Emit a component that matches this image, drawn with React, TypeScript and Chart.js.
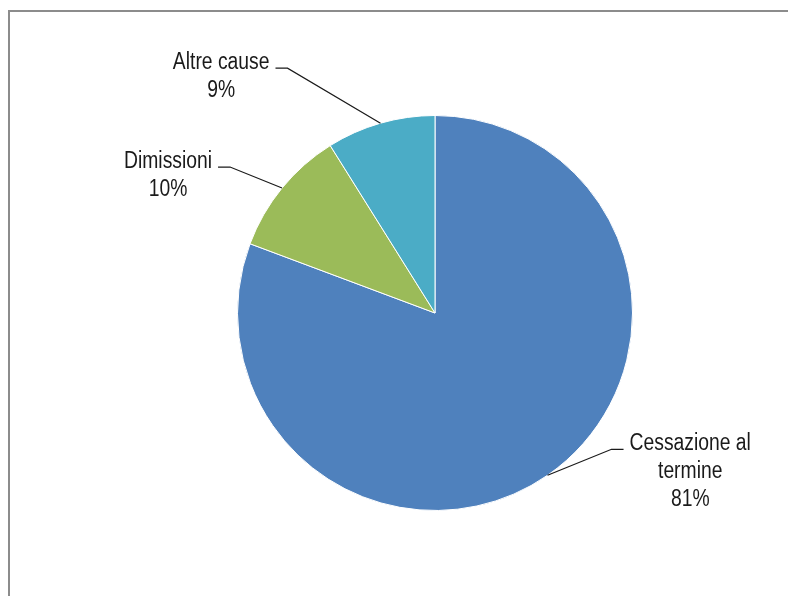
import React, { useEffect, useRef } from "react";
import { Chart, registerables } from "chart.js";

Chart.register(...registerables);

const categories = ["Cessazione al termine", "Dimissioni", "Altre cause"];
const labelLines = [["Cessazione al", "termine"], ["Dimissioni"], ["Altre cause"]];
const values = [80.7, 10.4, 8.9];
const colors = ["#4F81BD", "#9BBB59", "#4BACC6"];

// label layout: elbow offset from the arc edge point, and side (+1 right / -1 left)
const labelLayout = [
  { dx: 64, dy: -26, side: 1 },
  { dx: -52, dy: -21, side: -1 },
  { dx: -93, dy: -55, side: -1 },
];

const FONT_SIZE = 23;
const SCALE_X = 0.84;
const LINE_H = 28;

const leaderPlugin = {
  id: "leaderLabels",
  afterDatasetsDraw(chart: any) {
    const ctx = chart.ctx as CanvasRenderingContext2D;
    const meta = chart.getDatasetMeta(0);
    const data = chart.data.datasets[0].data as number[];
    const total = data.reduce((a, b) => a + b, 0);
    ctx.save();
    ctx.font = `${FONT_SIZE}px "Liberation Sans", Arial, sans-serif`;
    meta.data.forEach((arc: any, i: number) => {
      const { x, y, startAngle, endAngle, outerRadius } = arc.getProps(
        ["x", "y", "startAngle", "endAngle", "outerRadius"],
        true
      );
      const mid = (startAngle + endAngle) / 2;
      const px = x + Math.cos(mid) * outerRadius;
      const py = y + Math.sin(mid) * outerRadius;
      const lay = labelLayout[i];
      const ex = px + lay.dx;
      const ey = py + lay.dy;
      const hx = ex + lay.side * 12;
      ctx.strokeStyle = "#1a1a1a";
      ctx.lineWidth = 1.2;
      ctx.beginPath();
      ctx.moveTo(px, py);
      ctx.lineTo(ex, ey);
      ctx.lineTo(hx, ey);
      ctx.stroke();

      const pct = Math.round((data[i] / total) * 100) + "%";
      const lines = [...labelLines[i], pct];
      const widths = lines.map((l) => ctx.measureText(l).width * SCALE_X);
      const maxW = Math.max(...widths);
      const cx = hx + lay.side * (6 + maxW / 2);
      ctx.fillStyle = "#1a1a1a";
      ctx.textAlign = "center";
      ctx.textBaseline = "alphabetic";
      lines.forEach((l, k) => {
        ctx.save();
        ctx.translate(cx, ey + 1 + k * LINE_H);
        ctx.scale(SCALE_X, 1);
        ctx.fillText(l, 0, 0);
        ctx.restore();
      });
    });
    ctx.restore();
  },
};

export default function App() {
  const canvasRef = useRef<HTMLCanvasElement | null>(null);
  useEffect(() => {
    if (!canvasRef.current) return;
    const chart = new Chart(canvasRef.current, {
      type: "pie",
      data: {
        labels: categories,
        datasets: [
          {
            data: values,
            backgroundColor: colors,
            borderColor: "#ffffff",
            borderWidth: 1,
            hoverOffset: 0,
          },
        ],
      },
      options: {
        animation: false,
        responsive: true,
        maintainAspectRatio: false,
        layout: { padding: { left: 237, right: 155, top: 115, bottom: 85 } },
        plugins: {
          legend: { display: false },
          tooltip: { enabled: false },
        },
      },
      plugins: [leaderPlugin],
    });
    return () => chart.destroy();
  }, []);

  return (
    <div
      style={{
        position: "fixed",
        left: 0,
        top: 0,
        width: 788,
        height: 596,
        overflow: "hidden",
        background: "#ffffff",
      }}
    >
      <div
        style={{
          position: "absolute",
          left: 8,
          top: 10,
          width: 900,
          height: 700,
          borderLeft: "2px solid #8c8c8c",
          borderTop: "2px solid #8c8c8c",
        }}
      />
      <div style={{ position: "absolute", left: 0, top: 0, width: 788, height: 596 }}>
        <canvas ref={canvasRef} />
      </div>
    </div>
  );
}
